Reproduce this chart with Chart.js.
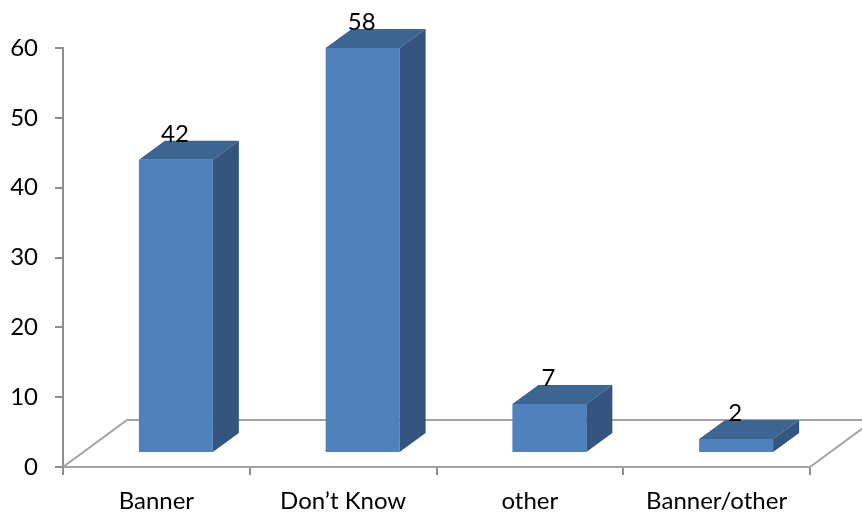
<!DOCTYPE html>
<html>
<head>
<meta charset="utf-8">
<script src="https://cdn.jsdelivr.net/npm/chart.js@4/dist/chart.umd.min.js"></script>
<style>
  html, body { margin: 0; padding: 0; background: #fff; }
  #wrap { width: 862px; height: 516px; }
</style>
</head>
<body>
<div id="wrap"><canvas id="c" width="862" height="516"></canvas></div>
<script>
const categories = ['Banner', 'Don\u2019t Know', 'other', 'Banner/other'];
const counts = [42, 58, 7, 2];
const yMin = 0;
const yMax = 60;
const yStep = 10;

const FONT = 'Lato, "Open Sans", sans-serif';
const FONT_SIZE = 24;
const FRONT = '#4F81BD';
const TOP = '#3D6592';
const SIDE = '#34557F';
const AXIS = '#8E8E8E';
const FLOOR_LINE = '#A3A3A3';

// 3D look: floor depth, bar front plane offset and bar box depth (px)
const FLOOR_D = { x: 64, y: -47 };
const SHIFT = { x: 19.5, y: -14 };
const BOX_D = { x: 26, y: -19 };

const box3d = {
  id: 'box3d',
  beforeDatasetsDraw(chart) {
    const { ctx, chartArea: a } = chart;
    ctx.save();
    ctx.strokeStyle = FLOOR_LINE;
    ctx.lineWidth = 2;
    ctx.beginPath();
    ctx.moveTo(a.left, a.bottom);
    ctx.lineTo(a.left + FLOOR_D.x, a.bottom + FLOOR_D.y);
    ctx.lineTo(a.right + FLOOR_D.x, a.bottom + FLOOR_D.y);
    ctx.lineTo(a.right, a.bottom);
    ctx.stroke();
    ctx.restore();
    ctx.save();
    ctx.translate(SHIFT.x, SHIFT.y);
  },
  afterDatasetsDraw(chart) {
    const { ctx } = chart;
    const meta = chart.getDatasetMeta(0);
    meta.data.forEach((el, i) => {
      const { x, y, base, width } = el.getProps(['x', 'y', 'base', 'width'], true);
      const l = x - width / 2, r = x + width / 2;
      ctx.fillStyle = TOP;
      ctx.beginPath();
      ctx.moveTo(l, y);
      ctx.lineTo(l + BOX_D.x, y + BOX_D.y);
      ctx.lineTo(r + BOX_D.x, y + BOX_D.y);
      ctx.lineTo(r, y);
      ctx.closePath();
      ctx.fill();
      ctx.fillStyle = SIDE;
      ctx.beginPath();
      ctx.moveTo(r, y);
      ctx.lineTo(r + BOX_D.x, y + BOX_D.y);
      ctx.lineTo(r + BOX_D.x, base + BOX_D.y);
      ctx.lineTo(r, base);
      ctx.closePath();
      ctx.fill();
      ctx.fillStyle = '#000';
      ctx.font = FONT_SIZE + 'px ' + FONT;
      ctx.textAlign = 'center';
      ctx.textBaseline = 'alphabetic';
      ctx.fillText(String(counts[i]), x - 1, y + BOX_D.y + 1);
    });
    ctx.restore();
  }
};

new Chart(document.getElementById('c'), {
  type: 'bar',
  data: {
    labels: categories,
    datasets: [{
      data: counts,
      backgroundColor: FRONT,
      borderWidth: 0,
      categoryPercentage: 1,
      barPercentage: 0.396,
      clip: false
    }]
  },
  options: {
    responsive: false,
    animation: false,
    events: [],
    layout: { padding: { top: 48, right: 52, left: 0, bottom: 0 } },
    plugins: { legend: { display: false }, tooltip: { enabled: false } },
    scales: {
      x: {
        afterFit: s => { s.height = 49; },
        grid: { offset: true, drawOnChartArea: false, tickLength: 8, color: AXIS, lineWidth: 2 },
        border: { display: true, color: FLOOR_LINE, width: 2 },
        ticks: { color: '#000', font: { family: FONT, size: FONT_SIZE }, padding: 12, maxRotation: 0 }
      },
      y: {
        min: yMin,
        max: yMax,
        afterFit: s => { s.width = 63; },
        grid: { drawOnChartArea: false, tickLength: 8, color: AXIS, lineWidth: 2 },
        border: { display: true, color: AXIS, width: 2 },
        ticks: { stepSize: yStep, color: '#000', font: { family: FONT, size: FONT_SIZE }, padding: 17 }
      }
    }
  },
  plugins: [box3d]
});
</script>
</body>
</html>
